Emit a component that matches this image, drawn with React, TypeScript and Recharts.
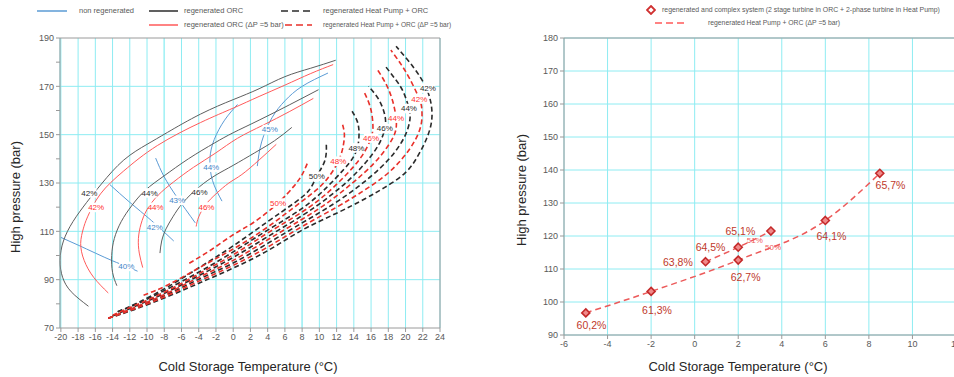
import React from 'react';
import { ComposedChart, Line, Scatter, XAxis, YAxis, CartesianGrid, ReferenceLine } from 'recharts';

type P = [number, number];
const pts = (a: P[]) => a.map(([x, y]) => ({ x, y }));

const FONT = '"Liberation Sans", Arial, sans-serif';
const GRID = '#8eecf2';
const AXIS = '#9a9a9a';
const TICK = { fontSize: 9, fill: '#595959', fontFamily: FONT };

// ---------- left panel ----------
const leftXTicks = [-20, -18, -16, -14, -12, -10, -8, -6, -4, -2, 0, 2, 4, 6, 8, 10, 12, 14, 16, 18, 20, 22, 24];
const leftYTicks = [70, 80, 90, 100, 110, 120, 130, 140, 150, 160, 170, 180, 190];
const leftYGrid = [90, 110, 130, 150, 170];
const leftXStrong = [-8, 8];

// non regenerated (blue iso-efficiency lines)
const nonRegen40: P[] = [[-20, 107.5], [-18, 104.3], [-16, 101], [-14, 97.8], [-12.4, 95.5], [-11.1, 93.5]];
const nonRegen42: P[] = [[-14.3, 129.3], [-12, 122], [-9.5, 114.5], [-6.9, 106]];
const nonRegen43: P[] = [[-9, 140.3], [-8, 132.5], [-6.5, 124], [-4.4, 113.5]];
const nonRegen44: P[] = [[0.5, 162.5], [-1, 156], [-2.2, 148], [-2.7, 140], [-2.4, 131], [-1.3, 122.5]];
const nonRegen45: P[] = [[11, 175.5], [8, 170], [6, 164], [4.5, 157], [3.3, 147], [2.8, 137]];

// regenerated ORC (black solid)
const orc42: P[] = [[-16.8, 79], [-18.8, 85], [-19.8, 91], [-20.1, 98], [-19.7, 106], [-18.6, 114], [-17, 122], [-15.2, 130], [-12.7, 139.5], [-10, 146], [-7.6, 151], [-3.8, 158.5], [0, 164.5], [3, 169], [6, 174], [9, 177.5], [11.9, 180.8]];
const orc44: P[] = [[-13.5, 87.5], [-14, 93], [-14.1, 100], [-13.8, 107], [-13, 114], [-11.8, 120.5], [-10.2, 127], [-8, 133], [-5.2, 140], [-2.2, 146.5], [0, 150.8], [3, 156], [6.5, 162.3], [9.9, 168.6]];
const orc46: P[] = [[-8.5, 101], [-8.3, 106], [-7.8, 111], [-7, 116], [-5.8, 122], [-3.9, 128.5], [-2, 133.3], [0, 137.3], [2.5, 142.5], [4.8, 147.5], [6.8, 153]];

// regenerated ORC, dP = 5 bar (red solid)
const orcDp42: P[] = [[-14.5, 84.5], [-16.2, 91], [-17.3, 98], [-17.7, 105], [-17.4, 111], [-16.9, 116], [-15.4, 125.5], [-12.7, 135], [-8.8, 145.5], [-3.8, 155], [0, 161], [3, 165.8], [6, 170.5], [9, 175.3], [11.6, 179]];
const orcDp44: P[] = [[-10.5, 95], [-10.9, 101], [-11, 107], [-10.7, 113], [-10, 119], [-8.7, 125], [-6.9, 130.5], [-4.6, 136.5], [-2, 142.5], [0.5, 148.5], [3.5, 154], [6.5, 159.5], [9.3, 165]];
const orcDp46: P[] = [[-4.3, 112], [-4, 116], [-3.2, 121], [-2, 125.5], [-0.5, 130], [1, 133.5], [3, 139.5], [5, 146]];

// regenerated Heat Pump + ORC (black dashed)
const hp42: P[] = [[-14.5, 74], [-11.5, 77.6], [-7.6, 83], [-3.8, 88.8], [0, 94.8], [4, 102], [8, 110.5], [12, 117.5], [15.3, 123.5], [17.5, 128], [19.9, 134], [21.4, 141], [22.4, 148], [23, 155], [23, 162], [22.4, 169.3], [21, 177.5], [18.9, 186.6]];
const hp44: P[] = [[-14.5, 74], [-11.5, 78.2], [-7.6, 84], [-3.8, 90.5], [0, 96.9], [4, 105], [8, 113.5], [11.5, 121], [14.5, 128.5], [17, 136], [18.8, 143], [20, 150], [20.5, 156], [20.4, 160.8], [19.7, 168], [18.7, 173.5], [17.6, 178.6]];
const hp46: P[] = [[-14, 75], [-11.5, 78.8], [-7.6, 85], [-3.8, 92], [0, 99.2], [4, 107.8], [8, 116.5], [11, 124], [13.5, 131.5], [15.5, 139], [16.9, 146], [17.6, 152.5], [17.6, 158], [16.9, 164.5], [15.7, 170]];
const hp48: P[] = [[-13.4, 76.7], [-11, 80.2], [-7.6, 86.2], [-3.8, 93.5], [0, 101.5], [4, 110.5], [8, 119.5], [10.8, 128], [12.8, 135.5], [14, 141], [14.5, 146], [14.6, 151], [14.4, 155.5], [13.8, 159.7]];
const hp50: P[] = [[-13.4, 76.7], [-11, 80.6], [-7.6, 87], [-3.8, 95.3], [0, 104], [4, 114], [7, 121.5], [8.8, 127], [9.7, 132.8], [10.5, 138], [10.8, 142.5], [10.8, 146.6]];

// regenerated Heat Pump + ORC, dP = 5 bar (red dashed)
const hpDp42: P[] = [[-14.5, 74], [-11.5, 77.9], [-7.6, 83.5], [-3.8, 89.7], [0, 95.9], [4, 103.5], [8, 112], [12, 120], [15, 126.5], [17.6, 133], [19.6, 140], [21, 147], [21.8, 154], [21.9, 160], [21.6, 164.8], [20.5, 173], [19.5, 179], [18.3, 185]];
const hpDp44: P[] = [[-14.5, 74], [-11.5, 78.4], [-7.6, 84.5], [-3.8, 91.3], [0, 98], [4, 106.5], [8, 115], [11.2, 122.5], [14, 130.5], [16.3, 138], [17.9, 145], [18.8, 151], [18.9, 156.9], [18.5, 164], [17.8, 170.5], [16.8, 176.6]];
const hpDp46: P[] = [[-14, 75.3], [-11.5, 79.2], [-7.6, 85.5], [-3.8, 92.8], [0, 100.3], [4, 109.3], [8, 118], [10.8, 125.5], [13, 133], [14.8, 140.5], [16, 148.6], [16.2, 155], [15.9, 161.5], [15.25, 167.2]];
const hpDp48: P[] = [[-10.4, 83.6], [-7.6, 87.8], [-3.8, 95.2], [0, 102.7], [4, 111.8], [8, 122.5], [10.5, 130], [12.2, 139], [12.8, 146], [12.9, 150.5], [12.7, 154.1]];
const hpDp50: P[] = [[-5.1, 96.8], [-2.5, 102.5], [0, 108.6], [2.5, 114], [5.2, 121.7], [7, 128.5], [8, 133.5], [8.7, 139]];

type Lbl = { x: number; y: number; text: string };
const leftLabelsBlack: Lbl[] = [
  { x: -16.7, y: 125.9, text: '42%' }, { x: -9.7, y: 125.9, text: '44%' }, { x: -3.9, y: 126.1, text: '46%' },
  { x: 22.6, y: 169.3, text: '42%' }, { x: 20.4, y: 160.8, text: '44%' }, { x: 17.6, y: 152.5, text: '46%' },
  { x: 14.3, y: 144.5, text: '48%' }, { x: 9.7, y: 132.8, text: '50%' },
];
const leftLabelsRed: Lbl[] = [
  { x: -15.9, y: 119.9, text: '42%' }, { x: -9.0, y: 119.9, text: '44%' }, { x: -3.1, y: 120.1, text: '46%' },
  { x: 21.6, y: 164.8, text: '42%' }, { x: 18.9, y: 156.9, text: '44%' }, { x: 16, y: 148.6, text: '46%' },
  { x: 12.2, y: 139, text: '48%' }, { x: 5.2, y: 121.7, text: '50%' },
];
const leftLabelsBlue: Lbl[] = [
  { x: -12.4, y: 95.5, text: '40%' }, { x: -9.1, y: 111.7, text: '42%' }, { x: -6.5, y: 122.8, text: '43%' },
  { x: -2.55, y: 136.5, text: '44%' }, { x: 4.25, y: 152.1, text: '45%' },
];

// ---------- right panel ----------
const rightXTicks = [-6, -4, -2, 0, 2, 4, 6, 8, 10, 12];
const rightYTicks = [90, 100, 110, 120, 130, 140, 150, 160, 170, 180];

const complexSystem: P[] = [[-5, 96.7], [-2, 103.2], [0.5, 112.2], [2, 112.7], [2, 116.6], [3.5, 121.5], [6, 124.7], [8.5, 139]];
const hpDpFit50: P[] = [[-5, 96.7], [-2, 103.2], [2, 112.7], [6, 124.7], [8.5, 139]];
const hpDpFit51: P[] = [[0.5, 112.2], [2, 116.6], [3.5, 121.5]];
const complexLabels: Lbl[] = [
  { x: -4.74, y: 92.8, text: '60,2%' }, { x: -1.73, y: 97.4, text: '61,3%' }, { x: -0.77, y: 112.0, text: '63,8%' },
  { x: 2.34, y: 107.5, text: '62,7%' }, { x: 0.73, y: 116.6, text: '64,5%' }, { x: 2.1, y: 121.5, text: '65,1%' },
  { x: 6.28, y: 119.9, text: '64,1%' }, { x: 8.99, y: 135.3, text: '65,7%' },
];
const fitLabels: Lbl[] = [{ x: 2.76, y: 118.8, text: '51%' }, { x: 3.6, y: 116.6, text: '50%' }];

const BLACK = '#2b2b2b';
const GRAY = '#5e5e5e';
const RED = '#ff5a5a';
const RED_D = '#e8302a';
const BLUE = '#5b9bd5';

const textMark = (color: string, size: number, box: boolean) => (props: any) => {
  const { cx, cy, payload } = props;
  const w = payload.text.length * size * 0.52 + 2;
  return (
    <g>
      {box && <rect x={cx - w / 2} y={cy - size * 0.6} width={w} height={size * 1.2} fill="#fff" />}
      <text x={cx} y={cy} dy="0.35em" textAnchor="middle" fontSize={size} fill={color} fontFamily={FONT}>
        {payload.text}
      </text>
    </g>
  );
};

const diamond = (props: any) => {
  const { cx, cy } = props;
  return <path d={`M${cx},${cy - 4}L${cx + 4},${cy}L${cx},${cy + 4}L${cx - 4},${cy}Z`} fill="#f08a8a" stroke="#c42a2a" strokeWidth={1.6} />;
};

const solid = (d: P[], color: string, key: string) => (
  <Line key={key} data={pts(d)} dataKey="y" type="natural" stroke={color} strokeWidth={1} dot={false} activeDot={false} isAnimationActive={false} />
);
const dashed = (d: P[], color: string, key: string, w = 1.6) => (
  <Line key={key} data={pts(d)} dataKey="y" type="natural" stroke={color} strokeWidth={w} strokeDasharray="5 3" dot={false} activeDot={false} isAnimationActive={false} />
);

function LegendLine({ x, y, w, color, dash }: { x: number; y: number; w: number; color: string; dash?: string }) {
  return (
    <svg style={{ position: 'absolute', left: x, top: y - 2 }} width={w} height={4}>
      <line x1={0} y1={2} x2={w} y2={2} stroke={color} strokeWidth={1.5} strokeDasharray={dash} />
    </svg>
  );
}

function LegendText({ x, y, size = 7.5, children }: { x: number; y: number; size?: number; children: React.ReactNode }) {
  return (
    <div style={{ position: 'absolute', left: x, top: y - 5, fontSize: size, lineHeight: '10px', color: '#595959', whiteSpace: 'nowrap' }}>
      {children}
    </div>
  );
}

const titleStyle: React.CSSProperties = { position: 'absolute', fontSize: 13, color: '#262626', whiteSpace: 'nowrap' };

export default function App() {
  return (
    <div style={{ position: 'relative', width: 954, height: 377, overflow: 'hidden', background: '#fff', fontFamily: FONT }}>
      <style>{'body{margin:0;overflow:hidden}'}</style>

      {/* left legend */}
      <LegendLine x={37} y={11} w={30} color={BLUE} />
      <LegendText x={79} y={11}>non regenerated</LegendText>
      <LegendLine x={149} y={11} w={29} color={BLACK} />
      <LegendText x={184} y={11}>regenerated ORC</LegendText>
      <LegendLine x={281} y={11} w={31} color={BLACK} dash="7 4" />
      <LegendText x={323} y={11}>regenerated Heat Pump + ORC</LegendText>
      <LegendLine x={149} y={25} w={29} color={RED} />
      <LegendText x={184} y={25}>regenerated ORC (ΔP =5 bar)</LegendText>
      <LegendLine x={285} y={25} w={27} color={RED_D} dash="7 4" />
      <LegendText x={323} y={25} size={6.6}>regenerated Heat Pump + ORC (ΔP =5 bar)</LegendText>

      <div style={{ position: 'absolute', left: 0, top: 0 }}>
        <ComposedChart width={460} height={377} margin={{ top: 38, right: 20, bottom: 19, left: 20 }}>
          <CartesianGrid stroke={GRID} strokeWidth={1} horizontal={false} />
          <XAxis dataKey="x" type="number" domain={[-20, 24]} ticks={leftXTicks} interval={0} tick={TICK} tickSize={4} height={30} axisLine={{ stroke: AXIS }} tickLine={{ stroke: AXIS }} />
          <YAxis dataKey="y" type="number" domain={[70, 190]} ticks={leftYTicks} interval={0} tick={TICK} tickSize={4} width={40} axisLine={{ stroke: AXIS }} tickLine={{ stroke: AXIS }} tickFormatter={(v: number) => ((v - 70) % 20 === 0 ? String(v) : '')} />
          {leftYGrid.map((v) => <ReferenceLine key={'gy' + v} y={v} stroke={GRID} />)}
          {leftXStrong.map((v) => <ReferenceLine key={'gx' + v} x={v} stroke="#a6f1f5" strokeWidth={1.5} />)}
          <ReferenceLine y={190} stroke={AXIS} />
          <ReferenceLine x={24} stroke={AXIS} />
          {[nonRegen40, nonRegen42, nonRegen43, nonRegen44, nonRegen45].map((d, i) => solid(d, BLUE, 'nr' + i))}
          {[orc42, orc44, orc46].map((d, i) => solid(d, GRAY, 'orc' + i))}
          {[orcDp42, orcDp44, orcDp46].map((d, i) => solid(d, RED, 'orcdp' + i))}
          {[hp42, hp44, hp46, hp48, hp50].map((d, i) => dashed(d, BLACK, 'hp' + i))}
          {[hpDp42, hpDp44, hpDp46, hpDp48, hpDp50].map((d, i) => dashed(d, RED_D, 'hpdp' + i))}
          <Scatter data={leftLabelsBlack} dataKey="y" shape={textMark(BLACK, 8, true)} isAnimationActive={false} />
          <Scatter data={leftLabelsRed} dataKey="y" shape={textMark('#ff3030', 8, true)} isAnimationActive={false} />
          <Scatter data={leftLabelsBlue} dataKey="y" shape={textMark('#3f86c8', 8, true)} isAnimationActive={false} />
        </ComposedChart>
      </div>
      <div style={{ ...titleStyle, left: 15, top: 197, transform: 'translate(-50%,-50%) rotate(-90deg)' }}>High pressure (bar)</div>
      <div style={{ ...titleStyle, left: 248, top: 366, transform: 'translate(-50%,-50%)' }}>Cold Storage Temperature (°C)</div>

      {/* right legend */}
      <svg style={{ position: 'absolute', left: 646, top: 5 }} width={10} height={10}>
        <path d="M5,1L9,5L5,9L1,5Z" fill="#fff" stroke="#d03030" strokeWidth={1.8} />
      </svg>
      <LegendText x={662} y={10} size={6.9}>regenerated and complex system (2 stage turbine in ORC + 2-phase turbine in Heat Pump)</LegendText>
      <LegendLine x={655} y={23} w={33} color={RED} dash="7 4" />
      <LegendText x={708} y={23} size={6.8}>regenerated  Heat Pump + ORC (ΔP =5 bar)</LegendText>

      <div style={{ position: 'absolute', left: 500, top: 0 }}>
        <ComposedChart width={470} height={377} margin={{ top: 38, right: 14, bottom: 12, left: 30 }}>
          <CartesianGrid stroke={GRID} strokeWidth={1} />
          <XAxis dataKey="x" type="number" domain={[-6, 12]} ticks={rightXTicks} interval={0} tick={TICK} tickSize={4} height={30} axisLine={{ stroke: AXIS }} tickLine={{ stroke: AXIS }} />
          <YAxis dataKey="y" type="number" domain={[90, 180]} ticks={rightYTicks} interval={0} tick={TICK} tickSize={4} width={34} axisLine={{ stroke: AXIS }} tickLine={{ stroke: AXIS }} />
          <ReferenceLine y={180} stroke={AXIS} />
          <Line data={pts(hpDpFit50)} dataKey="y" type="monotone" stroke="#ec5a5a" strokeWidth={1.5} strokeDasharray="6 4" dot={false} activeDot={false} isAnimationActive={false} />
          <Line data={pts(hpDpFit51)} dataKey="y" type="monotone" stroke="#ec5a5a" strokeWidth={1.5} strokeDasharray="6 4" dot={false} activeDot={false} isAnimationActive={false} />
          <Scatter data={pts(complexSystem)} dataKey="y" shape={diamond} isAnimationActive={false} />
          <Scatter data={complexLabels} dataKey="y" shape={textMark('#c0392b', 10.5, false)} isAnimationActive={false} />
          <Scatter data={fitLabels} dataKey="y" shape={textMark('#f05a5a', 8, false)} isAnimationActive={false} />
        </ComposedChart>
      </div>
      <div style={{ ...titleStyle, left: 521, top: 190, transform: 'translate(-50%,-50%) rotate(-90deg)' }}>High pressure (bar)</div>
      <div style={{ ...titleStyle, left: 738, top: 366, transform: 'translate(-50%,-50%)' }}>Cold Storage Temperature (°C)</div>
    </div>
  );
}
